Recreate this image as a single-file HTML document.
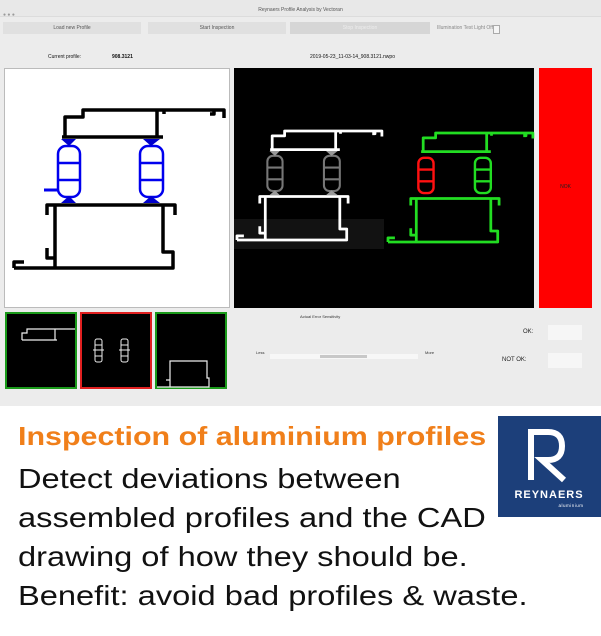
<!DOCTYPE html>
<html><head><meta charset="utf-8"><style>
*{margin:0;padding:0;box-sizing:border-box}
body{width:601px;height:636px;overflow:hidden;background:#fff;font-family:"Liberation Sans",sans-serif;position:relative}
.a{position:absolute}
.sm{font-size:5px;color:#555;text-align:center}
.txt{position:absolute;left:18px;font-size:28px;color:#111;white-space:nowrap;line-height:39px;transform:scaleX(1.165);transform-origin:0 0}
</style></head><body>
<div class="a" style="left:0;top:0;width:601px;height:406px;background:#ececec"></div>
<div class="a" style="left:0;top:0;width:601px;height:17px;background:#e8e8e8;border-bottom:1px solid #dcdcdc"></div>
<div class="a sm" style="left:0;top:7px;width:601px">Reynaers Profile Analysis by Vectoran</div>
<div class="a" style="left:3px;top:12px;font-size:5px;color:#999">● ● ●</div>
<div class="a sm" style="left:3px;top:22px;width:138px;height:12px;background:#e0e0e0;line-height:12px">Load new Profile</div>
<div class="a sm" style="left:148px;top:22px;width:138px;height:12px;background:#e0e0e0;line-height:12px">Start Inspection</div>
<div class="a sm" style="left:290px;top:22px;width:140px;height:12px;background:#d6d6d6;color:#eee;line-height:12px">Stop Inspection</div>
<div class="a" style="left:437px;top:25px;font-size:5px;color:#888">Illumination Test Light Off</div>
<div class="a" style="left:493px;top:25px;width:7px;height:9px;border:1px solid #aaa;background:#f5f5f5"></div>
<div class="a" style="left:48px;top:54px;font-size:5px;color:#111">Current profile:</div>
<div class="a" style="left:112px;top:54px;font-size:5px;color:#111;font-weight:bold">908.3121</div>
<div class="a" style="left:310px;top:54px;font-size:5px;color:#111">2019-05-23_11-03-14_908.3121.nwpo</div>

<div class="a" style="left:4px;top:68px;width:226px;height:240px;background:#fff;border:1px solid #bbb"></div>
<div class="a" style="left:234px;top:68px;width:300px;height:240px;background:#000"></div>
<div class="a" style="left:539px;top:68px;width:53px;height:240px;background:#ff0000"></div>
<div class="a" style="left:539px;top:184px;width:53px;text-align:center;font-size:5px;color:#222">NOK</div>
<div class="a" style="left:234px;top:219px;width:150px;height:30px;background:#121212"></div>

<svg class="a" style="left:0;top:0" width="601" height="406">
<defs>
<g id="frame" fill="none" stroke-linejoin="round">
<path d="M51,27 V7 H69 V0 H210 V8 M200,0 V4 H196 M150,0 V4 M143,0 V27 M48,27 H149 M33,105 V95 H161 V105 M41,95 V158 M33,138 V148 H41 M0,158 H159 V142 H149 V95 M0,158 V152 H10"/>
</g>
<g id="glass" fill="none">
<rect x="44" y="36" width="22" height="51" rx="8"/><path d="M44,53 H66 M44,70 H66"/>
</g>
<g id="glass2" fill="none">
<rect x="126" y="36" width="23" height="51" rx="8"/><path d="M126,53 H149 M126,70 H149"/>
</g>
<g id="clips"><path d="M47,29 L62,29 L55,36 Z M47,93 L62,93 L55,86 Z M129,29 L146,29 L137,36 Z M129,93 L146,93 L137,86 Z"/></g>
</defs>
<g transform="translate(14,110)">
<use href="#frame" stroke="#000" stroke-width="3.5"/>
<use href="#glass" stroke="#0000ee" stroke-width="2.5"/>
<use href="#glass2" stroke="#0000ee" stroke-width="2.5"/>
<use href="#clips" fill="#0000cc"/>
<path d="M44,80 H30" stroke="#0000ee" stroke-width="3"/>
</g>
<g transform="translate(237,131) scale(0.69)">
<use href="#frame" stroke="#fff" stroke-width="4"/>
<use href="#glass" stroke="#777" stroke-width="3"/>
<use href="#glass2" stroke="#777" stroke-width="3"/>
<use href="#clips" fill="#999"/>
</g>
<g transform="translate(388,133) scale(0.69)">
<use href="#frame" stroke="#22dd22" stroke-width="4"/>
<use href="#glass" stroke="#ff1111" stroke-width="3.5"/>
<use href="#glass2" stroke="#22dd22" stroke-width="3.5"/>
</g>
<rect x="6" y="313" width="70" height="75" fill="#000" stroke="#1a9a1a" stroke-width="2"/>
<rect x="81" y="313" width="70" height="75" fill="#000" stroke="#e02020" stroke-width="2"/>
<rect x="156" y="313" width="70" height="75" fill="#000" stroke="#1a9a1a" stroke-width="2"/>
<path d="M22,340 V333 H27 V329 H75 M22,340 H57 M55,329 V340" stroke="#eee" fill="none" stroke-width="1.2"/>
<g stroke="#eee" fill="none" stroke-width="1"><rect x="95" y="339" width="7" height="23" rx="2"/><rect x="121" y="339" width="7" height="23" rx="2"/><path d="M93,350 H104 M119,350 H130 M95,345 H102 M121,345 H128 M95,356 H102 M121,356 H128"/></g>
<path d="M157,387 H209 V378 H207 V361 H170 V387 M166,380 H170" stroke="#eee" fill="none" stroke-width="1.2"/>
<rect x="270" y="354" width="148" height="5" fill="#f7f7f7"/>
<rect x="320" y="355" width="47" height="3" fill="#c8c8c8"/>
<rect x="548" y="325" width="34" height="15" fill="#f6f6f6"/>
<rect x="548" y="353" width="34" height="15" fill="#f6f6f6"/>
</svg>
<div class="a" style="left:300px;top:314px;font-size:4px;color:#333">Actual Error Sensitivity</div>
<div class="a" style="left:256px;top:350px;font-size:4px;color:#333">Less</div>
<div class="a" style="left:425px;top:350px;font-size:4px;color:#333">More</div>
<div class="a" style="left:523px;top:329px;font-size:6px;color:#222">OK:</div>
<div class="a" style="left:502px;top:357px;font-size:6px;color:#222">NOT OK:</div>

<div class="a" style="left:18px;top:421px;font-size:26px;font-weight:bold;color:#f07f1a;white-space:nowrap;transform:scaleX(1.17);transform-origin:0 0">Inspection of aluminium profiles</div>
<div class="txt" style="top:459px">Detect deviations between</div>
<div class="txt" style="top:498px">assembled profiles and the CAD</div>
<div class="txt" style="top:537px">drawing of how they should be.</div>
<div class="txt" style="top:576px">Benefit: avoid bad profiles &amp; waste.</div>

<div class="a" style="left:498px;top:416px;width:103px;height:101px;background:#1c3f7a"></div>
<svg class="a" style="left:498px;top:416px" width="103" height="101">
<path d="M33,13 V64 M33,16 H50 Q64,16 64,30 Q64,44 50,44 H44 L66,64" stroke="#fff" stroke-width="6" fill="none"/>
<text x="51" y="82" font-family="Liberation Sans" font-weight="bold" font-size="11" fill="#fff" text-anchor="middle" letter-spacing="1">REYNAERS</text>
<text x="73" y="91" font-family="Liberation Sans" font-size="4.5" fill="#fff" text-anchor="middle" letter-spacing="0.5">aluminium</text>
</svg>
</body></html>
